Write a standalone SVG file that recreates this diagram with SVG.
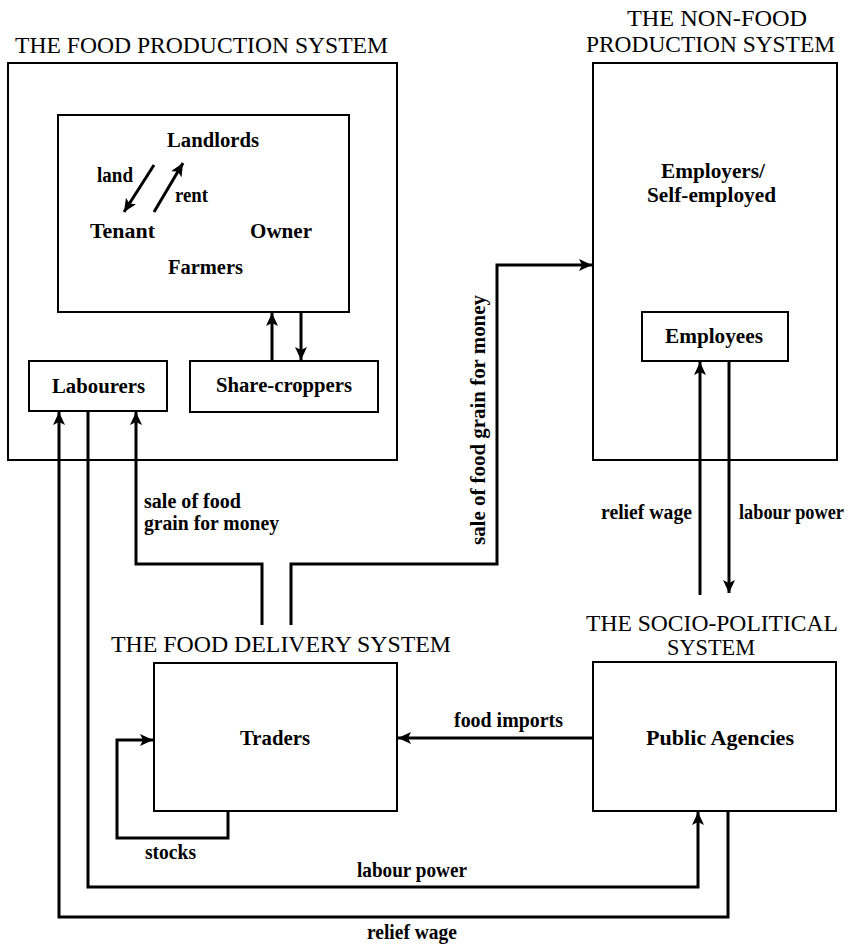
<svg xmlns="http://www.w3.org/2000/svg" width="852" height="946" viewBox="0 0 852 946">
<style>
  .box { fill: none; stroke: #000; stroke-width: 2; }
  .title { font-family: "Liberation Serif", "Times New Roman", serif; font-size: 23px; fill: #000; }
  .lbl { font-family: "Liberation Serif", "Times New Roman", serif; font-size: 20px; font-weight: bold; fill: #000; }
  .conn { fill: none; stroke: #000; stroke-width: 3; stroke-linejoin: miter; }
  .arr { marker-end: url(#ah); }
</style>
<defs>
  <marker id="ah" markerUnits="userSpaceOnUse" markerWidth="14" markerHeight="12" refX="13" refY="6" orient="auto">
    <path d="M0,0 L13,6 L0,12 L3,6 Z" fill="#000"/>
  </marker>
</defs>
<rect width="852" height="946" fill="#fff"/>

<g id="food-production-system">
  <text class="title" x="15" y="53" textLength="373" lengthAdjust="spacingAndGlyphs">THE FOOD PRODUCTION SYSTEM</text>
  <rect class="box" x="8" y="63" width="389" height="397"/>
</g>
<g id="farmers">
  <rect class="box" x="58" y="115" width="291" height="197"/>
  <text class="lbl" x="167" y="147" textLength="92" lengthAdjust="spacingAndGlyphs">Landlords</text>
  <text class="lbl" x="97" y="182" textLength="36" lengthAdjust="spacingAndGlyphs">land</text>
  <text class="lbl" x="175" y="202" textLength="33" lengthAdjust="spacingAndGlyphs">rent</text>
  <text class="lbl" x="90" y="238" textLength="65" lengthAdjust="spacingAndGlyphs">Tenant</text>
  <text class="lbl" x="250" y="238" textLength="62" lengthAdjust="spacingAndGlyphs">Owner</text>
  <text class="lbl" x="168" y="274" textLength="75" lengthAdjust="spacingAndGlyphs">Farmers</text>
</g>
<g id="labourers">
  <rect class="box" x="29" y="361" width="138" height="50"/>
  <text class="lbl" x="52" y="393" textLength="93" lengthAdjust="spacingAndGlyphs">Labourers</text>
</g>
<g id="share-croppers">
  <rect class="box" x="190" y="361" width="188" height="51"/>
  <text class="lbl" x="216" y="392" textLength="136" lengthAdjust="spacingAndGlyphs">Share-croppers</text>
</g>

<g id="non-food-production-system">
  <text class="title" x="627" y="26" textLength="180" lengthAdjust="spacingAndGlyphs">THE NON-FOOD</text>
  <text class="title" x="586" y="52" textLength="249" lengthAdjust="spacingAndGlyphs">PRODUCTION SYSTEM</text>
  <rect class="box" x="593" y="63" width="244" height="397"/>
  <text class="lbl" x="661" y="178" textLength="104" lengthAdjust="spacingAndGlyphs">Employers/</text>
  <text class="lbl" x="647" y="202" textLength="129" lengthAdjust="spacingAndGlyphs">Self-employed</text>
</g>
<g id="employees">
  <rect class="box" x="642" y="312" width="146" height="49"/>
  <text class="lbl" x="665" y="343" textLength="98" lengthAdjust="spacingAndGlyphs">Employees</text>
</g>

<g id="food-delivery-system">
  <text class="title" x="111" y="652" textLength="340" lengthAdjust="spacingAndGlyphs">THE FOOD DELIVERY SYSTEM</text>
  <rect class="box" x="154" y="663" width="243" height="148"/>
  <text class="lbl" x="240" y="745" textLength="70" lengthAdjust="spacingAndGlyphs">Traders</text>
</g>

<g id="socio-political-system">
  <text class="title" x="586" y="631" textLength="252" lengthAdjust="spacingAndGlyphs">THE SOCIO-POLITICAL</text>
  <text class="title" x="667" y="655" textLength="88" lengthAdjust="spacingAndGlyphs">SYSTEM</text>
  <rect class="box" x="593" y="662" width="243" height="149"/>
  <text class="lbl" x="646" y="745" textLength="148" lengthAdjust="spacingAndGlyphs">Public Agencies</text>
</g>

<g id="connectors">
  <line class="conn arr" x1="154" y1="165" x2="124" y2="212"/>
  <line class="conn arr" x1="154" y1="212" x2="183" y2="163"/>
  <line class="conn arr" x1="272" y1="361" x2="272" y2="313"/>
  <line class="conn arr" x1="301" y1="313" x2="301" y2="360"/>
  <path class="conn arr" d="M262,625 V564 H136 V412"/>
  <path class="conn arr" d="M291,625 V564 H497 V265 H592"/>
  <line class="conn arr" x1="700" y1="595" x2="700" y2="362"/>
  <line class="conn arr" x1="729" y1="362" x2="729" y2="593"/>
  <line class="conn arr" x1="593" y1="738" x2="398" y2="738"/>
  <path class="conn arr" d="M228,811 V838 H117 V740 H153"/>
  <path class="conn arr" d="M88,412 V887 H698 V812"/>
  <path class="conn arr" d="M728,811 V917 H59 V412"/>
</g>

<g id="connector-labels">
  <text class="lbl" x="144" y="508" textLength="97" lengthAdjust="spacingAndGlyphs">sale of food</text>
  <text class="lbl" x="144" y="530" textLength="135" lengthAdjust="spacingAndGlyphs">grain for money</text>
  <text class="lbl" transform="translate(485,545) rotate(-90)" x="0" y="0" textLength="250" lengthAdjust="spacingAndGlyphs">sale of food grain for money</text>
  <text class="lbl" x="601" y="519" textLength="91" lengthAdjust="spacingAndGlyphs">relief wage</text>
  <text class="lbl" x="739" y="519" textLength="105" lengthAdjust="spacingAndGlyphs">labour power</text>
  <text class="lbl" x="454" y="727" textLength="109" lengthAdjust="spacingAndGlyphs">food imports</text>
  <text class="lbl" x="145" y="859" textLength="51" lengthAdjust="spacingAndGlyphs">stocks</text>
  <text class="lbl" x="357" y="877" textLength="110" lengthAdjust="spacingAndGlyphs">labour power</text>
  <text class="lbl" x="367" y="939" textLength="90" lengthAdjust="spacingAndGlyphs">relief wage</text>
</g>
</svg>
